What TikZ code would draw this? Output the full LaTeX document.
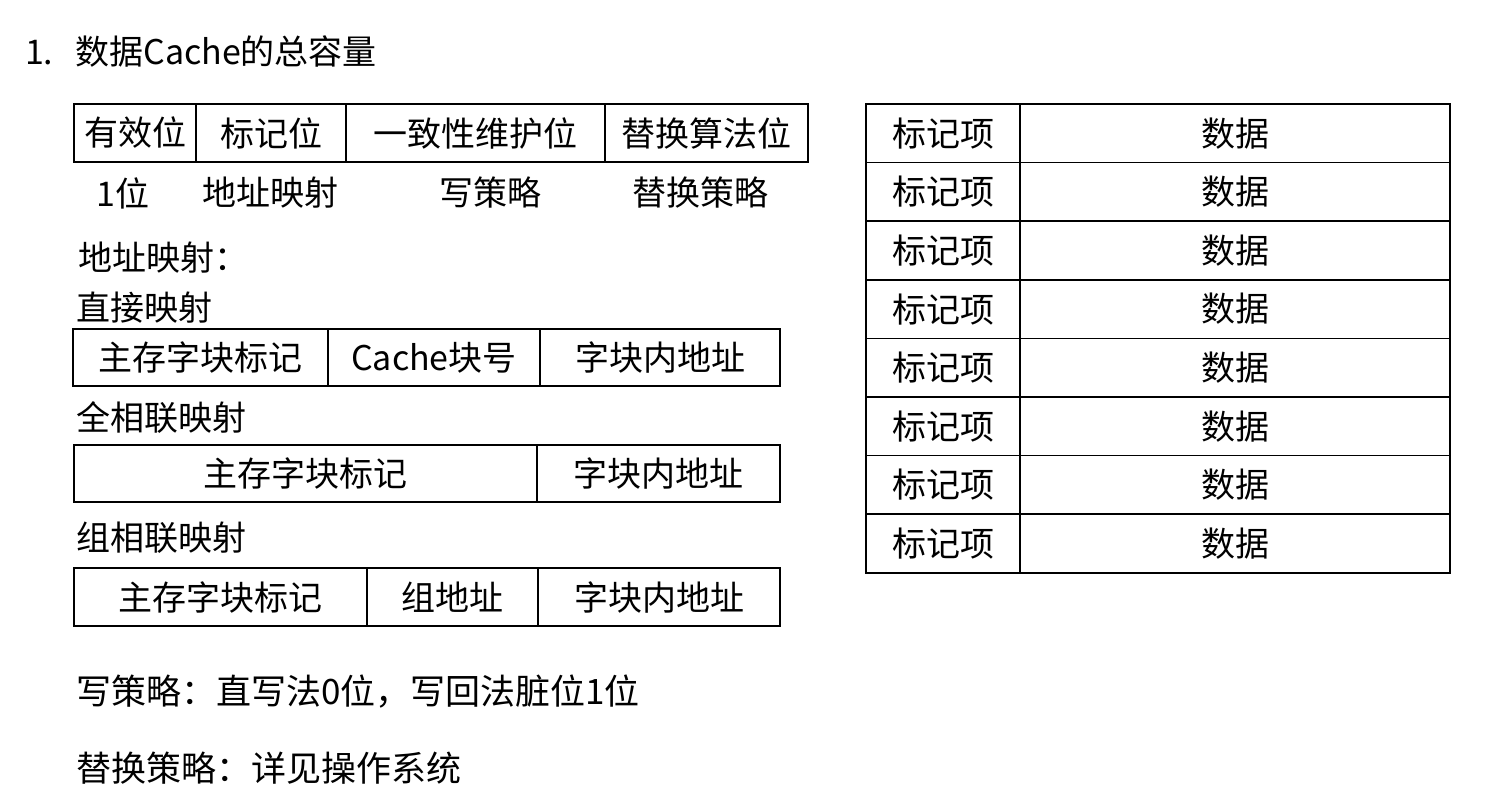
\documentclass[tikz,border=0pt]{standalone}
\usepackage{fontspec}
\setmainfont{Noto Sans CJK SC}
\usetikzlibrary{positioning}

\begin{document}
\begin{tikzpicture}[x=1pt,y=-1pt,
    every node/.style={inner sep=0pt,outer sep=0pt},
    cell/.style={rectangle,draw,line width=1.6pt,minimum height=58pt,
      anchor=north west,font=\fontsize{34}{38}\selectfont},
    txt/.style={anchor=west,font=\fontsize{34}{38}\selectfont},
    note/.style={font=\fontsize{34}{38}\selectfont}]
  \useasboundingbox (0,0) rectangle (1491,802);

  % title
  \node[txt] (title) at (25,52) {1.\hspace{22pt}数据Cache的总容量};

  % cache line layout
  \node[cell,minimum width=122pt] (valid) at (74,104) {有效位};
  \node[cell,minimum width=150pt,right=0pt of valid] (tagbit) {标记位};
  \node[cell,minimum width=259pt,right=0pt of tagbit] (cohbit) {一致性维护位};
  \node[cell,minimum width=203pt,right=0pt of cohbit] (replbit) {替换算法位};
  \node[note] (n1) at (123,193) {1位};
  \node[note] (n2) at (270,193) {地址映射};
  \node[note] (n3) at (490,193) {写策略};
  \node[note] (n4) at (700,193) {替换策略};

  % address mapping
  \node[txt] (map) at (78,258) {地址映射：};
  \node[txt] (direct) at (76,308) {直接映射};
  \node[cell,minimum width=255pt,minimum height=57pt] (dtag) at (73,329) {主存字块标记};
  \node[cell,minimum width=212pt,minimum height=57pt,right=0pt of dtag] (dblk) {Cache块号};
  \node[cell,minimum width=240pt,minimum height=57pt,right=0pt of dblk] (doff) {字块内地址};

  \node[txt] (full) at (76,418) {全相联映射};
  \node[cell,minimum width=463pt,minimum height=57pt] (ftag) at (74,445) {主存字块标记};
  \node[cell,minimum width=243pt,minimum height=57pt,right=0pt of ftag] (foff) {字块内地址};

  \node[txt] (set) at (76,538) {组相联映射};
  \node[cell,minimum width=293pt] (stag) at (74,568) {主存字块标记};
  \node[cell,minimum width=171pt,right=0pt of stag] (sset) {组地址};
  \node[cell,minimum width=242pt,right=0pt of sset] (soff) {字块内地址};

  % policies
  \node[txt,font=\fontsize{35}{40}\selectfont] (wpol) at (76,692) {写策略：直写法0位，写回法脏位1位};
  \node[txt,font=\fontsize{35}{40}\selectfont] (rpol) at (76,768) {替换策略：详见操作系统};

  % cache lines
  \foreach \i in {1,...,8} {
    \node[cell,minimum width=154pt,minimum height=58.6pt] (tag\i) at (866,{104+(\i-1)*58.6}) {标记项};
    \node[cell,minimum width=430pt,minimum height=58.6pt,right=0pt of tag\i] (data\i) {数据};
  }
\end{tikzpicture}
\end{document}
